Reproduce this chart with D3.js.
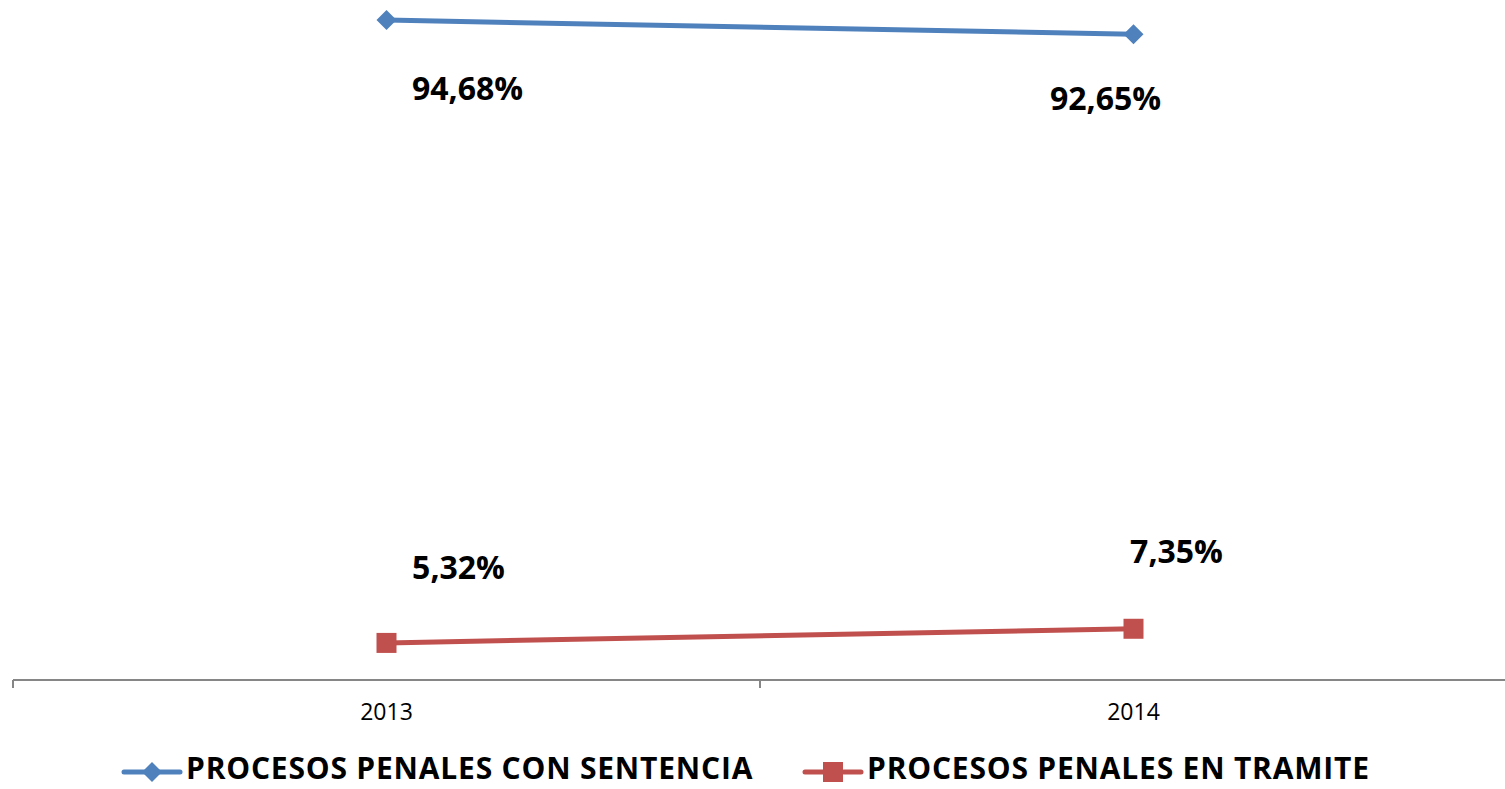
<!DOCTYPE html>
<html>
<head>
<meta charset="utf-8">
<script src="https://cdn.jsdelivr.net/npm/d3@7"></script>
<style>
  body { margin: 0; background: #fff; }
  svg { display: block; }
</style>
</head>
<body>
<div id="chart"></div>
<script>
// datos
var years = ["2013", "2014"];
var conSentencia = [94.68, 92.65];
var enTramite = [5.32, 7.35];
var seriesNames = ["PROCESOS PENALES CON SENTENCIA", "PROCESOS PENALES EN TRAMITE"];

var W = 1505, H = 789;
var font = "'Open Sans', sans-serif";

var svg = d3.select("#chart").append("svg")
    .attr("width", W)
    .attr("height", H);

var x = d3.scaleBand().domain(years).range([13, 1507]);
var y = d3.scaleLinear().domain([0, 100]).range([680, -17]);

var series = [
  {name: seriesNames[0], values: conSentencia, color: "#4F81BD", marker: "diamond",
   labelOff: [[81, 80], [-28, 76]]},
  {name: seriesNames[1], values: enTramite, color: "#C0504D", marker: "square",
   labelOff: [[72, -64], [43, -66]]}
];

// eje x
var xAxis = svg.append("g")
    .attr("transform", "translate(0," + y(0) + ")");
xAxis.append("line")
    .attr("x1", x.range()[0]).attr("x2", x.range()[1])
    .attr("stroke", "#868686").attr("stroke-width", 2);
xAxis.selectAll(".tick")
    .data(years.concat(["end"]))
    .enter().append("line")
    .attr("x1", function(d, i) { return x.range()[0] + i * x.step(); })
    .attr("x2", function(d, i) { return x.range()[0] + i * x.step(); })
    .attr("y1", 0).attr("y2", 8)
    .attr("stroke", "#868686").attr("stroke-width", 2);
xAxis.selectAll(".lbl")
    .data(years)
    .enter().append("text")
    .attr("x", function(d) { return x(d) + x.bandwidth() / 2; })
    .attr("y", 40)
    .attr("text-anchor", "middle")
    .style("font", "23px " + font)
    .style("fill", "#000")
    .text(function(d) { return d; });

var cx = function(i) { return x(years[i]) + x.bandwidth() / 2; };

var line = d3.line()
    .x(function(d, i) { return cx(i); })
    .y(function(d) { return y(d); });

function drawMarker(g, type, color, px, py) {
  if (type === "diamond") {
    g.append("path")
      .attr("d", "M" + px + "," + (py - 10) + "L" + (px + 10) + "," + py + "L" + px + "," + (py + 10) + "L" + (px - 10) + "," + py + "Z")
      .attr("fill", color);
  } else {
    g.append("rect")
      .attr("x", px - 10).attr("y", py - 10)
      .attr("width", 20).attr("height", 20)
      .attr("fill", color);
  }
}

series.forEach(function(s) {
  var g = svg.append("g");
  g.append("path")
    .datum(s.values)
    .attr("d", line)
    .attr("fill", "none")
    .attr("stroke", s.color)
    .attr("stroke-width", 5);
  s.values.forEach(function(v, i) {
    drawMarker(g, s.marker, s.color, cx(i), y(v));
    g.append("text")
      .attr("x", cx(i) + s.labelOff[i][0])
      .attr("y", y(v) + s.labelOff[i][1])
      .attr("text-anchor", "middle")
      .style("font", "bold 32px " + font)
      .style("fill", "#000")
      .text(v.toFixed(2).replace(".", ",") + "%");
  });
});

// leyenda
var legendX = [124, 805];
var legend = svg.selectAll(".legend")
    .data(series)
    .enter().append("g")
    .attr("class", "legend")
    .attr("transform", function(d, i) { return "translate(" + legendX[i] + ",772)"; });
legend.append("line")
    .attr("x1", 0).attr("x2", 56)
    .attr("stroke", function(d) { return d.color; })
    .attr("stroke-width", 5)
    .attr("stroke-linecap", "round");
legend.each(function(d) {
  drawMarker(d3.select(this), d.marker, d.color, 28, 0);
});
legend.append("text")
    .attr("x", 62)
    .attr("y", 7)
    .style("font", "bold 30px " + font)
    .style("letter-spacing", "0.8px")
    .style("fill", "#000")
    .text(function(d) { return d.name; });
</script>
</body>
</html>
